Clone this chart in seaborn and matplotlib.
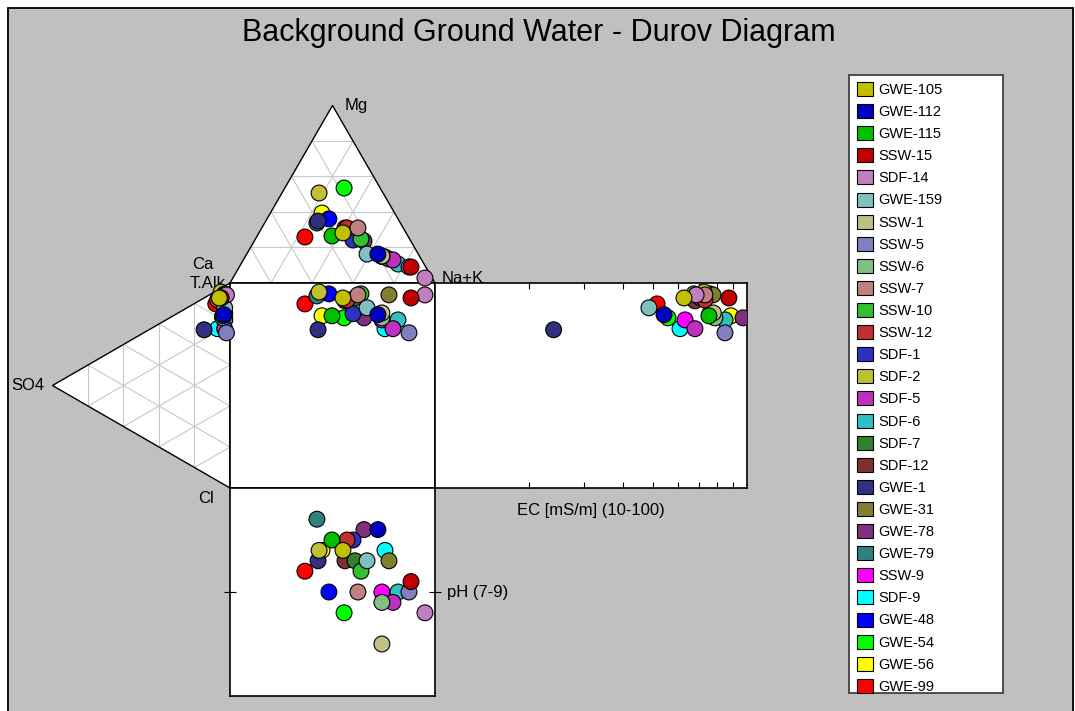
import matplotlib
matplotlib.use("Agg")
import matplotlib.pyplot as plt
from matplotlib.patches import Polygon, Rectangle, Patch
import numpy as np
import pandas as pd
import seaborn as sns

# sample ids, in legend order
SAMPLES = ["GWE-105", "GWE-112", "GWE-115", "SSW-15", "SDF-14", "GWE-159", "SSW-1",
           "SSW-5", "SSW-6", "SSW-7", "SSW-10", "SSW-12", "SDF-1", "SDF-2", "SDF-5",
           "SDF-6", "SDF-7", "SDF-12", "GWE-1", "GWE-31", "GWE-78", "GWE-79", "SSW-9",
           "SDF-9", "GWE-48", "GWE-54", "GWE-56", "GWE-99"]
COLORS = ["#C0C000", "#0000C0", "#00C000", "#C00000", "#C080C0", "#80C0C0", "#C0C080",
          "#8080C0", "#80C080", "#C08080", "#30C030", "#C03030", "#3030C0", "#C0C030",
          "#C030C0", "#30C0C0", "#308030", "#803030", "#303080", "#808030", "#803080",
          "#308080", "#FF00FF", "#00FFFF", "#0000FF", "#00FF00", "#FFFF00", "#FF0000"]

# cations, % meq
CA = [30.8, 19.7, 37.0, 7.2, 3.5, 25.0, 18.3, 8.2, 18.4, 22.1, 23.7, 27.4, 27.9, 31.2,
      14.0, 12.7, 24.5, 28.4, 39.6, 15.7, 22.8, 40.7, 18.4, 17.1, 33.7, 17.6, 35.4, 50.5]
MG = [28.2, 16.3, 26.5, 9.0, 2.8, 16.3, 15.2, 9.0, 15.0, 31.0, 24.8, 31.0, 24.2, 50.7,
      13.0, 10.7, 29.0, 31.0, 34.9, 13.5, 23.7, 33.8, 15.0, 14.6, 36.1, 53.5, 39.4, 25.9]
NAK = [41.0, 64.0, 36.5, 83.8, 93.7, 58.7, 66.5, 82.8, 66.6, 46.9, 51.5, 41.6, 47.9, 18.1,
       73.0, 76.6, 46.5, 40.6, 25.5, 70.8, 53.5, 25.5, 66.6, 68.3, 30.2, 28.9, 25.2, 23.6]
# anions, % meq
ALK = [89.7, 82.8, 82.0, 90.2, 93.2, 86.4, 83.9, 74.7, 81.0, 92.7, 93.2, 88.2, 83.5, 93.1,
       76.2, 80.5, 90.7, 88.3, 69.9, 92.7, 81.5, 91.7, 80.5, 74.2, 92.7, 81.0, 82.0, 85.8]
SO4 = [6.0, 3.5, 4.0, 5.0, 2.0, 3.0, 3.0, 2.0, 4.0, 3.0, 3.0, 7.0, 3.0, 5.0,
       3.0, 3.0, 4.0, 6.0, 14.6, 3.0, 3.0, 4.0, 3.0, 7.0, 4.0, 4.0, 4.0, 8.0]
CL = [4.3, 13.7, 14.0, 4.8, 4.8, 10.6, 13.1, 23.3, 15.0, 4.3, 3.8, 4.8, 13.5, 1.9,
      20.8, 16.5, 5.3, 5.7, 15.5, 4.3, 15.5, 4.3, 16.5, 18.8, 3.3, 15.0, 14.0, 6.2]
EC = [62.8, 54.2, 75.5, 87.5, 68.7, 48.5, 78.0, 85.0, 78.9, 73.3, 67.6, 73.3, 76.0, 72.8,
      68.1, 85.0, 71.0, 68.1, 24.0, 77.8, 97.1, 70.6, 63.3, 61.0, 76.0, 55.8, 88.8, 51.5]
PH = [8.4, 8.6, 8.5, 8.1, 7.8, 8.3, 7.5, 8.0, 7.9, 8.0, 8.2, 8.5, 8.5, 8.4,
      7.9, 8.0, 8.3, 8.3, 8.3, 8.3, 8.6, 8.7, 8.0, 8.4, 8.0, 7.8, 8.4, 8.2]

W, H = 1075, 711
PX = 2.05            # pixels per diagram unit
X0, Y0 = 230, 488    # pixel of the square's lower-left corner
TH = np.sqrt(3) / 2 * 100
GRAY = "#C0C0C0"
FONT = "Liberation Sans"


def fig_box(x0, y0, x1, y1):
    """pixel box (top-left origin) -> figure fraction [l, b, w, h]"""
    return [x0 / W, 1 - y1 / H, (x1 - x0) / W, (y1 - y0) / H]


df = pd.DataFrame({"sample": SAMPLES, "ca": CA, "mg": MG, "nak": NAK,
                   "alk": ALK, "so4": SO4, "cl": CL, "ec": EC, "ph": PH})
cat = df[["ca", "mg", "nak"]].sum(axis=1)
ani = df[["alk", "so4", "cl"]].sum(axis=1)
mg, nak = df.mg / cat, df.nak / cat
so4, cl = df.so4 / ani, df.cl / ani
df["sq_x"] = 100 * (nak + mg / 2)
df["sq_y"] = 100 * (1 - cl - so4 / 2)
df["tri_x"] = df.sq_x
df["tri_y"] = 100 + TH * mg
df["lt_x"] = -TH * so4
df["lt_y"] = df.sq_y
df = df.iloc[::-1]  # first legend entries end up on top
palette = dict(zip(SAMPLES, COLORS))
pts = dict(hue="sample", palette=palette, s=130, edgecolor="black", linewidth=0.8,
           legend=False, zorder=5)

sns.set_theme(style="white")
plt.rcParams["font.family"] = [FONT, "DejaVu Sans"]
plt.rcParams["text.color"] = "black"
fig = plt.figure(figsize=(W / 100, H / 100), dpi=100)

ax = fig.add_axes([0, 0, 1, 1])
ax.axis("off")

ax.add_patch(Rectangle((8 / W, -0.02), 1065 / W, 1 - 8 / H + 0.02, transform=fig.transFigure,
                       facecolor=GRAY, edgecolor="black", linewidth=1.3, zorder=0))
fig.text(539 / W, 1 - 33 / H, "Background Ground Water - Durov Diagram",
         ha="center", va="center", fontsize=22)

# triangles with 20 % grid
tri_top = np.array([[0, 100], [100, 100], [50, 100 + TH]])
tri_left = np.array([[0, 100], [0, 0], [-TH, 50]])
for verts in (tri_top, tri_left):
    ax.add_patch(Polygon(verts, closed=True, facecolor="white", edgecolor="none", zorder=1))
    for i in range(3):
        v, u, w = verts[i], verts[(i + 1) % 3], verts[(i + 2) % 3]
        for t in np.arange(0.2, 0.99, 0.2):
            p, q = t * v + (1 - t) * u, t * v + (1 - t) * w
            ax.plot([p[0], q[0]], [p[1], q[1]], color="#C8C8C8", lw=0.8, zorder=2)
    ax.add_patch(Polygon(verts, closed=True, facecolor="none", edgecolor="black",
                         linewidth=1.0, zorder=3))
ax.add_patch(Rectangle((0, 0), 100, 100, facecolor="white", edgecolor="black",
                       linewidth=1.2, zorder=3))

sns.scatterplot(data=df, x="tri_x", y="tri_y", ax=ax, **pts)
sns.scatterplot(data=df, x="lt_x", y="lt_y", ax=ax, **pts)
sns.scatterplot(data=df, x="sq_x", y="sq_y", ax=ax, **pts)
ax.set_xlim(-X0 / PX, (W - X0) / PX)
ax.set_ylim(-(H - Y0) / PX, Y0 / PX)
ax.axis("off")

lab = dict(fontsize=12, va="center")
ax.text(56, 100 + TH, "Mg", ha="left", **lab)
ax.text(-8, 109, "Ca", ha="right", **lab)
ax.text(-2, 100, "T.Alk", ha="right", **lab)
ax.text(103, 102, "Na+K", ha="left", **lab)
ax.text(-TH - 4, 50, "SO4", ha="right", **lab)
ax.text(-8, -5, "Cl", ha="right", **lab)

# EC rectangle
ax_ec = fig.add_axes(fig_box(435, 283, 747, 488))
sns.scatterplot(data=df, x="ec", y="sq_y", ax=ax_ec, **pts)
ax_ec.set_xscale("log")
ax_ec.set_xlim(10, 100)
ax_ec.set_ylim(0, 100)
ax_ec.set_xticks([20, 30, 40, 50, 60, 70, 80, 90])
ax_ec.set_xticks([], minor=True)
ax_ec.set_yticks([])
ax_ec.tick_params(axis="x", which="both", direction="in", top=True, bottom=True,
                  length=4, width=0.8, color="black", labelbottom=False)
ax_ec.set_xlabel("")
ax_ec.set_ylabel("")
ax_ec.set_facecolor("white")
for sp in ax_ec.spines.values():
    sp.set_color("black")
    sp.set_linewidth(1.2)
fig.text(591 / W, 1 - 510 / H, "EC [mS/m] (10-100)", ha="center", va="center", fontsize=12)

# pH rectangle
ax_ph = fig.add_axes(fig_box(230, 488, 435, 696))
sns.scatterplot(data=df, x="sq_x", y="ph", ax=ax_ph, **pts)
ax_ph.set_xlim(0, 100)
ax_ph.set_ylim(7, 9)
ax_ph.set_xticks([])
ax_ph.set_yticks([8])
ax_ph.tick_params(axis="y", direction="inout", left=True, right=True, length=8,
                  width=0.8, color="black", labelleft=False)
ax_ph.set_xlabel("")
ax_ph.set_ylabel("")
ax_ph.set_facecolor("white")
for sp in ax_ph.spines.values():
    sp.set_color("black")
    sp.set_linewidth(1.2)
fig.text(447 / W, 1 - 592 / H, "pH (7-9)", ha="left", va="center", fontsize=12)

# legend
ax.add_patch(Rectangle((849 / W, 1 - 693 / H), 154 / W, 618 / H, transform=fig.transFigure,
                       facecolor="white", edgecolor="#333333", linewidth=1.2, zorder=4))
handles = [Patch(facecolor=c, edgecolor="black", linewidth=0.8) for c in COLORS]
fig.legend(handles, SAMPLES, loc="upper left", bbox_to_anchor=(857 / W, 1 - 82 / H),
           frameon=False, fontsize=10.5, handlelength=1.1, handleheight=1.1,
           handletextpad=0.35, labelspacing=0.49, borderpad=0, borderaxespad=0)

fig.savefig("out.png", dpi=100)
